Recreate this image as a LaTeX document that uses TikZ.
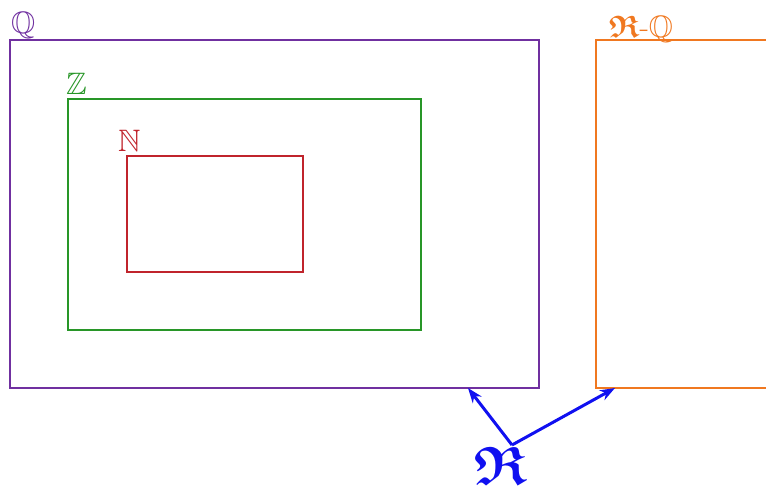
\documentclass[tikz,border=0pt]{standalone}
\usepackage{amsmath,amssymb}
\usetikzlibrary{arrows.meta}
\definecolor{cpurple}{RGB}{112,48,160}
\definecolor{cgreen}{RGB}{40,150,40}
\definecolor{cred}{RGB}{192,36,44}
\definecolor{corange}{RGB}{240,120,32}
\definecolor{cblue}{RGB}{16,16,240}
\begin{document}
\begin{tikzpicture}[x=1pt,y=-1pt,
  setbox/.style={draw,line width=2pt,inner sep=0pt,anchor=north west},
  setlabel/.style={inner sep=0pt,anchor=base west,font=\fontsize{31}{36}\selectfont},
  arr/.style={cblue,line width=3pt,-{Stealth[length=15pt,width=11pt]}}]
\clip (0,0) rectangle (766,486);
\node[setbox,cpurple,minimum width=529pt,minimum height=348pt] (Qbox) at (9,39) {};
\node[setbox,cgreen,minimum width=353pt,minimum height=231pt] (Zbox) at (67,98) {};
\node[setbox,cred,minimum width=176pt,minimum height=116pt] (Nbox) at (126,155) {};
\node[setbox,corange,minimum width=220pt,minimum height=348pt] (RQbox) at (595,39) {};
\node[setlabel,cpurple] (Qlab) at (11,34) {$\boldsymbol{\mathbb{Q}}$};
\node[setlabel,cgreen] (Zlab) at (66,95) {$\boldsymbol{\mathbb{Z}}$};
\node[setlabel,cred] (Nlab) at (118,152) {$\boldsymbol{\mathbb{N}}$};
\node[setlabel,corange] (RQlab) at (609,38) {$\boldsymbol{\mathfrak{R}}\text{-}\boldsymbol{\mathbb{Q}}$};
\node[inner sep=0pt,anchor=north,cblue,font=\fontsize{54}{60}\selectfont] (Rlab) at (501,447) {$\boldsymbol{\mathfrak{R}}$};
\coordinate (apex) at (512,445);
\coordinate (qend) at (468,388);
\coordinate (rqend) at (615,388);
\draw[arr] (apex) -- (qend);
\draw[arr] (apex) -- (rqend);
\end{tikzpicture}
\end{document}
